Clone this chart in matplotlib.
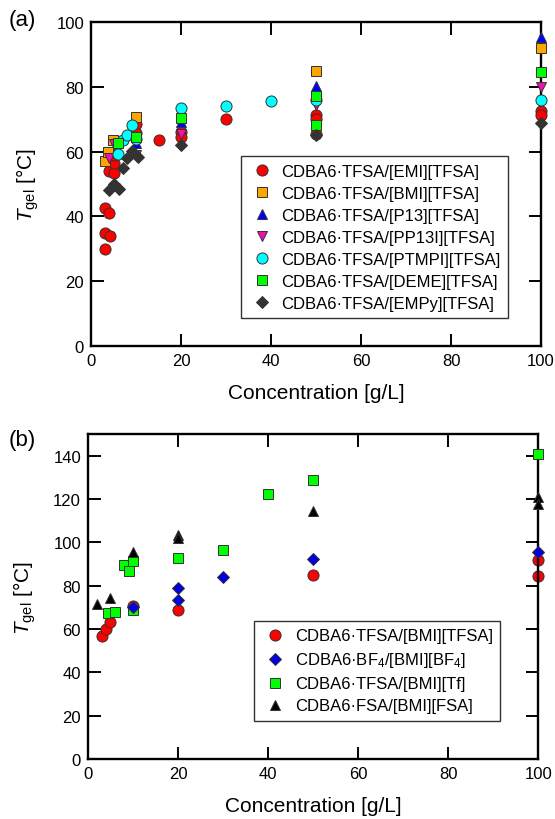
import matplotlib
matplotlib.use("Agg")
import matplotlib.pyplot as plt

plt.rcParams['font.family'] = ['Liberation Sans', 'DejaVu Sans']
plt.rcParams['mathtext.fontset'] = 'custom'
plt.rcParams['mathtext.rm'] = 'Liberation Sans'
plt.rcParams['mathtext.it'] = 'Liberation Sans:italic'

# ---- panel (a) data: concentration [g/L], Tgel [degC]
emi_x = [3, 3, 4.2, 3, 4.1, 4.1, 5.1, 5.1, 5, 10, 10, 15, 20, 20, 30, 50, 50, 50, 100, 100]
emi_y = [30, 34.7, 34, 42.5, 41, 54, 53.4, 56.4, 59, 68.5, 65.6, 63.6, 66, 64.5, 70, 71.2, 70, 65.5, 72.6, 71.3]
bmi_x = [3, 3.8, 4.9, 10, 50, 100]
bmi_y = [57, 60, 63.6, 70.7, 85, 92]
p13_x = [10, 20, 50, 100]
p13_y = [62.6, 69.2, 80.2, 95.4]
pp13_x = [4.1, 5, 10, 20, 50, 100]
pp13_y = [58, 62.4, 59, 65.3, 74.5, 80]
ptmp_x = [6.1, 7, 7.9, 9, 10, 20, 30, 40, 50, 100]
ptmp_y = [59.2, 63.5, 65.2, 68.2, 64, 73.5, 74, 75.6, 76, 76]
deme_x = [6.1, 10, 20, 50, 50, 100]
deme_y = [62.5, 64.4, 70.2, 77, 68.2, 84.6]
empy_x = [4.1, 5.1, 6.3, 7, 8.1, 9, 10.5, 20, 50, 100]
empy_y = [48.2, 50, 48.4, 55, 58, 60.3, 58.3, 62, 65.1, 68.8]

# ---- panel (b) data
tf_bmi_x = [3, 4, 4.9, 9.9, 19.9, 50, 100, 100]
tf_bmi_y = [56.6, 60, 63.5, 70.5, 68.9, 84.9, 91.8, 84.6]
bf4_x = [10, 20, 20, 30, 50, 100]
bf4_y = [70, 78.8, 73.5, 84.1, 92.3, 95.7]
tf_x = [4.5, 6, 7.9, 9, 9.9, 10, 20, 30, 40, 50, 100]
tf_y = [67.4, 68, 89.7, 86.9, 91.5, 69, 92.8, 96.6, 122.3, 128.8, 141]
fsa_x = [1.9, 4.9, 9.9, 20, 20, 50, 100, 100]
fsa_y = [71.5, 74.2, 95.4, 103.4, 101.9, 114.6, 120.8, 117.7]

series_a = [
    (emi_x, emi_y, 'o', '#ff0000', 'CDBA6·TFSA/[EMI][TFSA]'),
    (bmi_x, bmi_y, 's', '#ffa500', 'CDBA6·TFSA/[BMI][TFSA]'),
    (p13_x, p13_y, '^', '#0000ff', 'CDBA6·TFSA/[P13][TFSA]'),
    (pp13_x, pp13_y, 'v', '#f010b0', 'CDBA6·TFSA/[PP13I][TFSA]'),
    (ptmp_x, ptmp_y, 'o', '#00ffff', 'CDBA6·TFSA/[PTMPI][TFSA]'),
    (deme_x, deme_y, 's', '#00ff00', 'CDBA6·TFSA/[DEME][TFSA]'),
    (empy_x, empy_y, 'D', '#333333', 'CDBA6·TFSA/[EMPy][TFSA]'),
]
series_b = [
    (tf_bmi_x, tf_bmi_y, 'o', '#ff0000', 'CDBA6·TFSA/[BMI][TFSA]', 2),
    (tf_x, tf_y, 's', '#00ff00', 'CDBA6·TFSA/[BMI][Tf]', 3),
    (bf4_x, bf4_y, 'D', '#0000e0', r'CDBA6·BF$_4$/[BMI][BF$_4$]', 4),
    (fsa_x, fsa_y, '^', '#000000', 'CDBA6·FSA/[BMI][FSA]', 5),
]
order_b = [0, 2, 1, 3]

fig = plt.figure(figsize=(5.55, 8.2), dpi=100)
ax1 = fig.add_axes([0.164, 0.577, 0.811, 0.395])
ax2 = fig.add_axes([0.1586, 0.0732, 0.811, 0.396])


def size_for(m):
    return {'o': 8, 's': 7.5, '^': 7.5, 'v': 7.5, 'D': 6.5}[m]


for x, y, m, c, lab in series_a:
    ax1.plot(x, y, linestyle='none', marker=m, ms=size_for(m), mfc=c,
             mec='#333333', mew=0.7, label=lab, clip_on=False, zorder=3)

handles = []
for x, y, m, c, lab, z in series_b:
    h, = ax2.plot(x, y, linestyle='none', marker=m, ms=size_for(m), mfc=c,
                  mec='#333333', mew=0.7, label=lab, clip_on=False, zorder=z)
    handles.append(h)

for ax, ymax, yticks in [(ax1, 100, range(0, 101, 20)), (ax2, 150, range(0, 141, 20))]:
    ax.set_xlim(0, 100)
    ax.set_ylim(0, ymax)
    ax.set_xticks(range(0, 101, 20))
    ax.set_yticks(list(yticks))
    ax.tick_params(direction='in', length=9, width=1.4, labelsize=12,
                   top=True, right=True, pad=5)
    for s in ax.spines.values():
        s.set_linewidth(1.7)
    ax.set_xlabel('Concentration [g/L]', fontsize=15, labelpad=11)
    ax.set_ylabel(r'$T_{\mathrm{gel}}$ [°C]', fontsize=15, labelpad=11)

leg_kw = dict(fontsize=12, frameon=True, fancybox=False, edgecolor='black',
              handletextpad=0.4, borderpad=0.45, labelspacing=0.42,
              handlelength=1.6, borderaxespad=0)

leg1 = ax1.legend(loc='lower right', bbox_to_anchor=(0.927, 0.085), **leg_kw)
leg1.get_frame().set_linewidth(1.0)

leg2 = ax2.legend([handles[i] for i in order_b],
                  [series_b[i][4] for i in order_b],
                  loc='lower right', bbox_to_anchor=(0.916, 0.117), **leg_kw)
leg2.get_frame().set_linewidth(1.0)

fig.text(0.015, 0.975, '(a)', fontsize=16, va='center')
fig.text(0.015, 0.463, '(b)', fontsize=16, va='center')

fig.savefig('out.png', dpi=100)
